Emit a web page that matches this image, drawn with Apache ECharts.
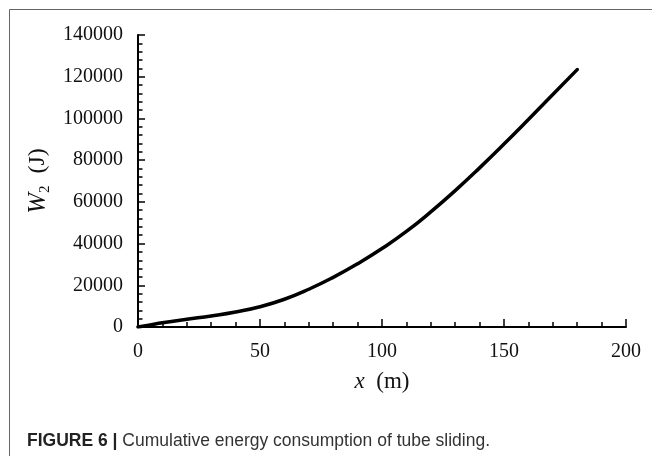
<!DOCTYPE html>
<html>
<head>
<meta charset="utf-8">
<script src="https://cdn.jsdelivr.net/npm/echarts@6/dist/echarts.min.js"></script>
<style>
html,body{margin:0;padding:0;background:#fff;}
#chart{width:652px;height:456px;}
</style>
</head>
<body>
<div id="chart"></div>
<script>
// distance x (m)
const xValues = [0, 5, 10, 20, 30, 40, 50, 60, 70, 80, 90, 100, 110, 120, 130, 140, 150, 160, 170, 180];
// cumulative energy W2 (J)
const w2Values = [0, 1000, 2000, 3700, 5300, 7200, 9700, 13300, 18100, 23800, 30300, 37600, 45800, 55200, 65400, 76300, 87700, 99500, 111500, 123400];
const xTicks = [0, 50, 100, 150, 200];
const yTicks = [0, 20000, 40000, 60000, 80000, 100000, 120000, 140000];
const captionBold = 'FIGURE 6 |';
const captionText = ' Cumulative energy consumption of tube sliding.';

const serif = '"Liberation Serif", "DejaVu Serif", serif';
const chart = echarts.init(document.getElementById('chart'), null, {renderer: 'canvas'});

const option = {
  backgroundColor: '#fff',
  animation: false,
  grid: {left: 138, right: 26, top: 35, bottom: 129, containLabel: false},
  xAxis: {
    type: 'value',
    min: xTicks[0], max: xTicks[xTicks.length - 1], interval: 50,
    splitLine: {show: false},
    axisLine: {lineStyle: {color: '#000', width: 2}},
    axisTick: {inside: true, length: 8, lineStyle: {color: '#000', width: 1.5}},
    minorTick: {show: true, splitNumber: 5, length: 5, lineStyle: {color: '#000', width: 1.5}},
    axisLabel: {margin: 15, color: '#111', fontFamily: serif, fontSize: 20, formatter: v => String(v)},
    name: '{i|x}{n|  (m)}',
    nameLocation: 'middle',
    nameGap: 43,
    nameTextStyle: {
      rich: {
        i: {fontFamily: serif, fontStyle: 'italic', fontSize: 23, color: '#111'},
        n: {fontFamily: serif, fontSize: 23, color: '#111'}
      }
    }
  },
  yAxis: {
    type: 'value',
    min: yTicks[0], max: yTicks[yTicks.length - 1], interval: 20000,
    splitLine: {show: false},
    axisLine: {show: true, lineStyle: {color: '#000', width: 2}},
    axisTick: {show: true, inside: true, length: 7, lineStyle: {color: '#000', width: 1.5}},
    minorTick: {show: true, splitNumber: 5, length: 4.5, lineStyle: {color: '#000', width: 1.5}},
    axisLabel: {margin: 15, color: '#111', fontFamily: serif, fontSize: 20, formatter: v => String(v)},
    name: '{w|W}{s|2}{n|  (J)}',
    nameLocation: 'middle',
    nameRotate: 90,
    nameGap: 75,
    nameTextStyle: {
      rich: {
        w: {fontFamily: serif, fontStyle: 'italic', fontSize: 25, color: '#111', lineHeight: 28},
        s: {fontFamily: serif, fontSize: 15, color: '#111', lineHeight: 14, verticalAlign: 'bottom', padding: [8, 0, 0, 0]},
        n: {fontFamily: serif, fontSize: 24, color: '#111', lineHeight: 28}
      }
    }
  },
  series: [{
    type: 'line',
    data: xValues.map((x, i) => [x, w2Values[i]]),
    smooth: 0.5,
    showSymbol: false,
    lineStyle: {color: '#000', width: 3.5, cap: 'round'}
  }],
  graphic: [
    {
      type: 'rect', silent: true, z: -1,
      shape: {x: 9.5, y: 9.5, width: 800, height: 800},
      style: {fill: 'none', stroke: '#666', lineWidth: 1}
    },
    {
      type: 'text', left: 27, top: 432,
      style: {
        text: '{b|' + captionBold + '}{t|' + captionText + '}',
        rich: {
          b: {fontFamily: '"Liberation Sans", Arial, sans-serif', fontWeight: 'bold', fontSize: 17.5, fill: '#222'},
          t: {fontFamily: '"Liberation Sans", Arial, sans-serif', fontSize: 17.5, fill: '#333'}
        }
      }
    }
  ]
};
chart.setOption(option);
</script>
</body>
</html>
